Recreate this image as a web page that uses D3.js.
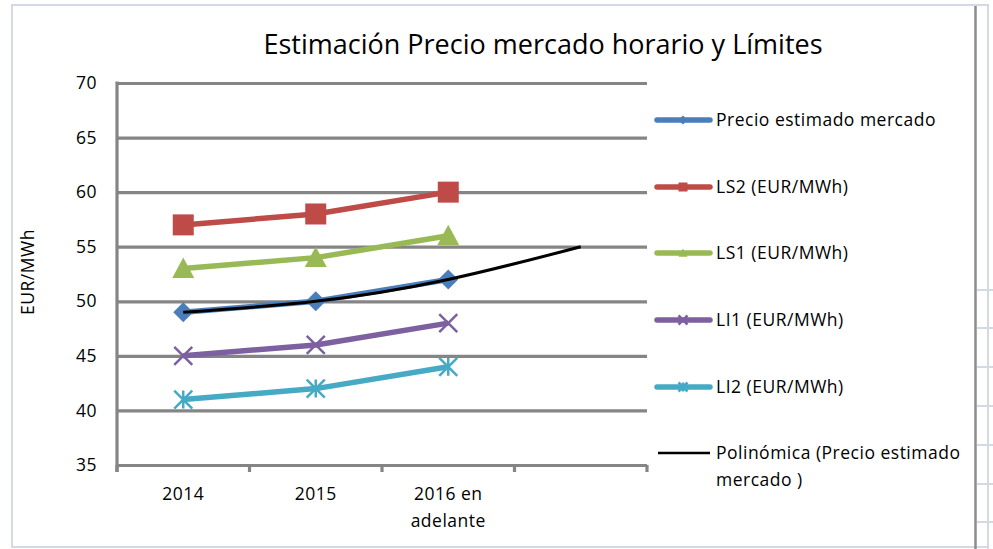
<!DOCTYPE html>
<html>
<head>
<meta charset="utf-8">
<script src="https://d3js.org/d3.v7.min.js"></script>
<style>
  body { margin: 0; background: #fff; }
  svg { display: block; font-family: "Open Sans", "Noto Sans", sans-serif; }
</style>
</head>
<body>
<svg width="993" height="549"></svg>
<script>
// data
var categories = ["2014", "2015", "2016 en adelante", ""];
var precio = [49, 50, 52];
var ls2 = [57, 58, 60];
var ls1 = [53, 54, 56];
var li1 = [45, 46, 48];
var li2 = [41, 42, 44];
var tendencia = [49, 50, 52, 55]; // polynomial trendline, one period forward
var yTicks = [35, 40, 45, 50, 55, 60, 65, 70];

var series = [
  {name: "Precio estimado mercado", values: precio, color: "#4a7ebb", marker: "diamond"},
  {name: "LS2 (EUR/MWh)", values: ls2, color: "#be4b48", marker: "square"},
  {name: "LS1 (EUR/MWh)", values: ls1, color: "#98b954", marker: "triangle"},
  {name: "LI1 (EUR/MWh)", values: li1, color: "#7d60a0", marker: "x"},
  {name: "LI2 (EUR/MWh)", values: li2, color: "#46aac5", marker: "star"}
];

var svg = d3.select("svg");

// chart frame + bits of the sheet behind it
svg.append("rect").attr("x", 12).attr("y", 5).attr("width", 976).attr("height", 542)
  .attr("fill", "none").attr("stroke", "#d3dae6").attr("stroke-width", 2);
svg.append("line").attr("x1", 988).attr("x2", 988).attr("y1", 5).attr("y2", 549)
  .attr("stroke", "#d3dae6").attr("stroke-width", 2);
[290, 328, 367, 406, 445, 484, 522].forEach(function (yy) {
  svg.append("line").attr("x1", 977).attr("x2", 993).attr("y1", yy).attr("y2", yy)
    .attr("stroke", "#d3dae6").attr("stroke-width", 2);
});
svg.append("line").attr("x1", 975.5).attr("x2", 975.5).attr("y1", 6).attr("y2", 549)
  .attr("stroke", "#8c8c8c").attr("stroke-width", 2.5);

var pLeft = 117, pRight = 647, pTop = 83, pBottom = 465;

var x = d3.scaleBand().domain(categories).range([pLeft, pRight]).padding(0);
var y = d3.scaleLinear().domain([35, 70]).range([pBottom, pTop]);
function cx(i) { return x(categories[i]) + x.bandwidth() / 2; }

var fs = 17.5, ls = "0.5px", ink = "#000";

// title
svg.append("text").attr("x", 543).attr("y", 54).attr("text-anchor", "middle")
  .attr("font-size", 27).attr("fill", ink)
  .text("Estimación Precio mercado horario y Límites");

// gridlines + y labels
var yAxis = d3.axisLeft(y).tickValues(yTicks).tickSize(-(pRight - pLeft)).tickPadding(20);
var gy = svg.append("g").attr("transform", "translate(" + pLeft + ",0)").call(yAxis);
gy.select(".domain").remove();
gy.selectAll(".tick line").attr("stroke", "#858585").attr("stroke-width", 3.2);
gy.selectAll(".tick text").attr("font-size", fs).attr("fill", ink)
  .attr("font-family", "Open Sans").attr("letter-spacing", ls);

// left axis line
svg.append("line").attr("x1", pLeft).attr("x2", pLeft).attr("y1", pTop - 1.5).attr("y2", pBottom + 7)
  .attr("stroke", "#858585").attr("stroke-width", 3.2);

// x axis ticks on category boundaries
var bounds = categories.map(function (c) { return x(c); }).concat([pRight]);
svg.selectAll(".xtick").data(bounds).enter().append("line")
  .attr("x1", function (d) { return d; }).attr("x2", function (d) { return d; })
  .attr("y1", pBottom).attr("y2", pBottom + 7)
  .attr("stroke", "#858585").attr("stroke-width", 3.2);

// x labels (wrapped)
var xLabelLines = [["2014"], ["2015"], ["2016 en", "adelante"], []];
xLabelLines.forEach(function (lines, i) {
  lines.forEach(function (t, j) {
    svg.append("text").attr("x", cx(i)).attr("y", 500 + j * 27)
      .attr("text-anchor", "middle").attr("font-size", fs).attr("letter-spacing", ls)
      .attr("fill", ink).text(t);
  });
});

// y axis title
svg.append("text").attr("transform", "translate(34,272) rotate(-90)")
  .attr("text-anchor", "middle").attr("font-size", fs).attr("letter-spacing", ls)
  .attr("fill", ink).text("EUR/MWh");

// markers
function drawMarker(g, type, color, px, py, s) {
  var h = s / 2;
  if (type === "diamond") {
    g.append("path").attr("d", "M" + px + "," + (py - h) + "L" + (px + h) + "," + py + "L" + px + "," + (py + h) + "L" + (px - h) + "," + py + "Z")
      .attr("fill", color);
  } else if (type === "square") {
    g.append("rect").attr("x", px - h).attr("y", py - h).attr("width", s).attr("height", s).attr("fill", color);
  } else if (type === "triangle") {
    g.append("path").attr("d", "M" + px + "," + (py - h) + "L" + (px + h) + "," + (py + h * 0.85) + "L" + (px - h) + "," + (py + h * 0.85) + "Z")
      .attr("fill", color);
  } else if (type === "x") {
    g.append("path").attr("d", "M" + (px - h) + "," + (py - h) + "L" + (px + h) + "," + (py + h) + "M" + (px + h) + "," + (py - h) + "L" + (px - h) + "," + (py + h))
      .attr("stroke", color).attr("stroke-width", 2.5);
  } else if (type === "star") {
    g.append("path").attr("d", "M" + (px - h) + "," + (py - h) + "L" + (px + h) + "," + (py + h) + "M" + (px + h) + "," + (py - h) + "L" + (px - h) + "," + (py + h) + "M" + px + "," + (py - h) + "L" + px + "," + (py + h))
      .attr("stroke", color).attr("stroke-width", 2.5);
  }
}

var line = d3.line().x(function (d, i) { return cx(i); }).y(function (d) { return y(d); });
var sizes = {diamond: 20, square: 21, triangle: 22, x: 18, star: 18};

series.forEach(function (s) {
  var g = svg.append("g");
  g.append("path").datum(s.values).attr("d", line).attr("fill", "none")
    .attr("stroke", s.color).attr("stroke-width", 5.5).attr("stroke-linejoin", "round");
  s.values.forEach(function (v, i) { drawMarker(g, s.marker, s.color, cx(i), y(v), sizes[s.marker]); });
});

// trendline
svg.append("path").datum(tendencia)
  .attr("d", d3.line().x(function (d, i) { return cx(i); }).y(function (d) { return y(d); }).curve(d3.curveNatural))
  .attr("fill", "none").attr("stroke", "#000").attr("stroke-width", 3);

// legend
var legY = [120, 187, 253, 320, 387];
series.forEach(function (s, i) {
  var g = svg.append("g");
  g.append("line").attr("x1", 657).attr("x2", 710).attr("y1", legY[i]).attr("y2", legY[i])
    .attr("stroke", s.color).attr("stroke-width", 5.5).attr("stroke-linecap", "round");
  drawMarker(g, s.marker, s.color, 683, legY[i], 9);
  g.append("text").attr("x", 716).attr("y", legY[i] + 6).attr("font-size", fs)
    .attr("letter-spacing", ls).attr("fill", ink).text(s.name);
});
svg.append("line").attr("x1", 658).attr("x2", 710).attr("y1", 453).attr("y2", 453)
  .attr("stroke", "#000").attr("stroke-width", 2.5);
svg.append("text").attr("x", 716).attr("y", 459).attr("font-size", fs).attr("letter-spacing", ls)
  .attr("fill", ink).text("Polinómica (Precio estimado");
svg.append("text").attr("x", 716).attr("y", 486).attr("font-size", fs).attr("letter-spacing", ls)
  .attr("fill", ink).text("mercado )");
</script>
</body>
</html>
